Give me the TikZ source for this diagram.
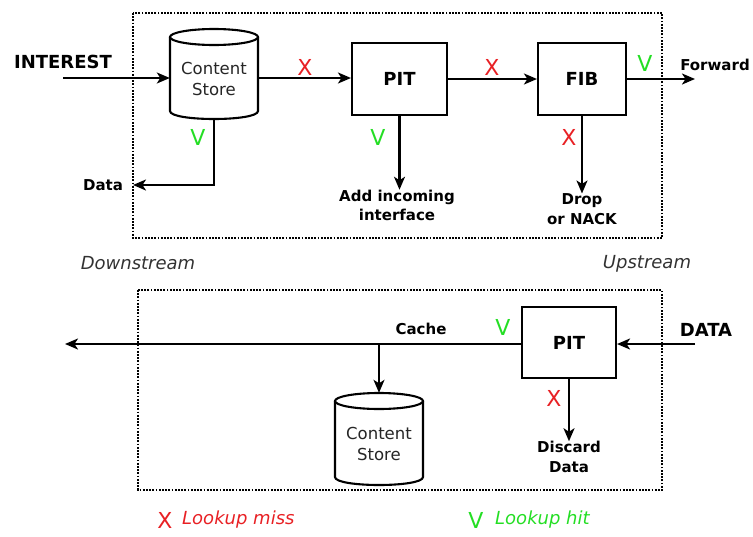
\documentclass[tikz,border=0pt]{standalone}
\usepackage{fontspec}
\setmainfont{DejaVu Sans}
\usetikzlibrary{arrows.meta}
\definecolor{xred}{RGB}{232,32,36}
\definecolor{vgreen}{RGB}{36,222,36}
\definecolor{dirgray}{RGB}{50,50,50}
\newcommand\drawcyl[4]{% name, cx, top, bottom
  \pgfmathsetmacro\cylL{#2-44}%
  \pgfmathsetmacro\cylR{#2+44}%
  \pgfmathsetmacro\cylT{#3+8}%
  \pgfmathsetmacro\cylB{#4-8}%
  \draw[ln, fill=white] (\cylL,\cylT) -- (\cylL,\cylB) .. controls (\cylL,\cylB+10.67) and (\cylR,\cylB+10.67) .. (\cylR,\cylB) -- (\cylR,\cylT);
  \draw[ln] (#2,\cylT) ellipse [x radius=44pt, y radius=8pt];
  \node[inner sep=0pt, minimum width=88pt, minimum height={#4-#3}] (#1) at ({#2},{(#3+#4)/2}) {};
  \node[cstext] (#1-t) at ({#2},{(#3+#4)/2+5}) {Content\\Store};
}
\begin{document}
\begin{tikzpicture}[x=1pt,y=-1pt,
  ln/.style={line width=2.1pt},
  arr/.style={line width=2.1pt, -{Stealth[length=13pt,width=11pt,inset=3.5pt]}},
  box/.style={draw, line width=2.1pt, inner sep=0pt, font=\fontsize{18}{20}\selectfont\bfseries},
  lbl/.style={font=\fontsize{15}{19.5}\selectfont\bfseries, align=center, inner sep=0pt},
  big/.style={font=\fontsize{18}{20}\selectfont\bfseries, inner sep=0pt},
  cstext/.style={font=\fontsize{16.5}{21}\selectfont, align=center, inner sep=0pt, text=black!85},
  xm/.style={text=xred, font=\fontsize{22}{22}\selectfont, inner sep=0pt},
  vm/.style={text=vgreen, font=\fontsize{22}{22}\selectfont, inner sep=0pt},
  frame/.style={line width=1.8pt, dash pattern=on 1.8pt off 1.4pt},
  dirtext/.style={text=dirgray, font=\fontsize{18}{20}\selectfont\itshape, inner sep=0pt},
  ]
\useasboundingbox (0,0) rectangle (753,536);

% frames
\draw[frame] (133,13) rectangle (662,238);
\draw[frame] (138,290) rectangle (662,490);

% ---------- Interest path ----------
\drawcyl{cs1}{214}{29}{119}
\node[box, minimum width=95pt, minimum height=72pt] (pit1) at (399.5,79) {PIT};
\node[box, minimum width=88pt, minimum height=72pt] (fib) at (582,79) {FIB};

\node[big] (interest) at (63,62) {INTEREST};
\coordinate (inS) at (63,78);
\draw[arr] (inS) -- (inS -| cs1.west);

\draw[arr] (cs1.east |- 0,78) -- (pit1.west |- 0,78);
\node[xm] (x1) at (305,67) {X};

\draw[arr] (pit1.east) -- (fib.west);
\node[xm] (x2) at (492,67) {X};

\coordinate (dataC) at (133,185);
\node[lbl] (data) at (103,185) {Data};
\draw[arr] (cs1.south) |- (dataC);
\node[vm] (v1) at (198,137) {V};

\node[lbl] (add) at (397,205.5) {Add incoming\\interface};
\draw[arr] (pit1.south) -- (pit1.south |- add.north);
\node[vm] (v2) at (378,137) {V};

\coordinate (fwd) at (695,79);
\draw[arr] (fib.east) -- (fwd);
\node[vm] (v3) at (645,63) {V};
\node[lbl] (forward) at (715,65) {Forward};

\node[lbl] (drop) at (582,209) {Drop\\or NACK};
\draw[arr] (fib.south) -- (fib.south |- drop.north);
\node[xm] (x3) at (569,137) {X};

\node[dirtext] (down) at (138,263) {Downstream};
\node[dirtext] (up) at (647,264) {Upstream};

% ---------- Data path ----------
\node[box, minimum width=94pt, minimum height=71pt] (pit2) at (569,342.5) {PIT};
\drawcyl{cs2}{379}{393}{485}

\node[big] (datain) at (706,330) {DATA};
\coordinate (dIn) at (695,344);
\draw[arr] (dIn) -- (dIn -| pit2.east);

\coordinate (outL) at (65,344);
\draw[arr] (pit2.west |- outL) -- (outL);
\coordinate (br) at (379,344);
\draw[arr] (br) -- (cs2.north);
\node[lbl] (cache) at (421,329) {Cache};
\node[vm] (v4) at (503,327) {V};

\node[lbl] (disc) at (569,457) {Discard\\Data};
\draw[arr] (pit2.south) -- (pit2.south |- disc.north);
\node[xm] (x4) at (554,398) {X};

% ---------- legend ----------
\node[xm] (lx) at (165,520) {X};
\node[dirtext, text=xred, anchor=west] (lmiss) at (182,520) {Lookup miss};
\node[vm] (lv) at (476,520) {V};
\node[dirtext, text=vgreen, anchor=west] (lhit) at (495,520) {Lookup hit};
\end{tikzpicture}
\end{document}
